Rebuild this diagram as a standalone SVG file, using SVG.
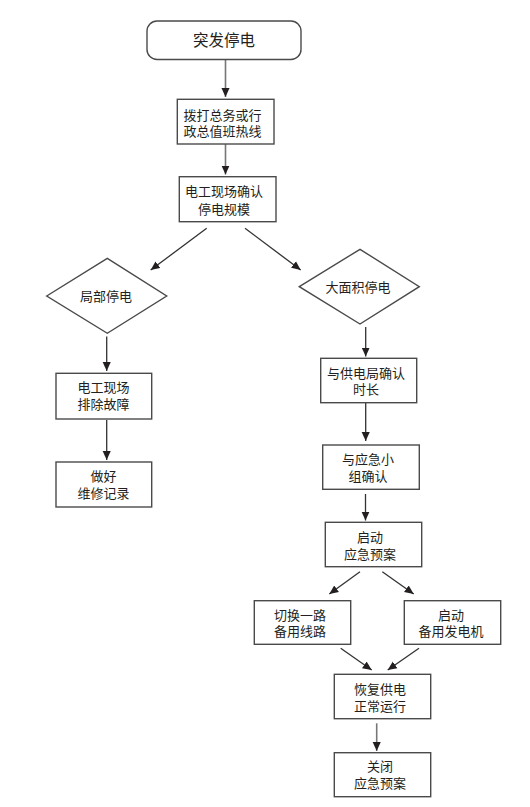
<svg xmlns="http://www.w3.org/2000/svg" width="530" height="807" viewBox="0 0 530 807">
<defs>
<marker id="ah" viewBox="0 0 10 10" refX="10" refY="5" markerWidth="9" markerHeight="9" markerUnits="userSpaceOnUse" orient="auto">
<path d="M0,0.5 L10,5 L0,9.5 z" fill="#231f20"/>
</marker>
</defs>
<style>
.box{fill:#fff;stroke:#4a4a4a;stroke-width:1.4}
.t{font-family:"Liberation Sans","Noto Sans CJK SC",sans-serif;font-size:13px;fill:#231f20;text-anchor:middle}
.t15{font-size:15.5px}
.c{stroke:#333;stroke-width:1.3;fill:none;marker-end:url(#ah)}
.g{stroke:#777;stroke-width:1.6}
</style>
<rect width="530" height="807" fill="#fff"/>
<g id="connectors">
<line class="c g" x1="225.5" y1="59" x2="225.5" y2="97"/>
<line class="c g" x1="225.5" y1="144" x2="225.5" y2="174.5"/>
<line class="c" x1="206.7" y1="228.3" x2="150.7" y2="270"/>
<line class="c" x1="245" y1="228.3" x2="300.7" y2="270"/>
<line class="c" x1="106.7" y1="336.5" x2="106.7" y2="371"/>
<line class="c" x1="106.7" y1="420" x2="106.7" y2="460"/>
<line class="c" x1="365.7" y1="327" x2="365.7" y2="356.5"/>
<line class="c" x1="365.7" y1="403" x2="365.7" y2="441"/>
<line class="c" x1="365.5" y1="494" x2="365.5" y2="520.5"/>
<line class="c" x1="360" y1="571.7" x2="329.3" y2="594"/>
<line class="c" x1="382.3" y1="571.7" x2="413.7" y2="594"/>
<line class="c" x1="340.7" y1="648.3" x2="371.7" y2="670"/>
<line class="c" x1="419" y1="648.3" x2="387.7" y2="670"/>
<line class="c g" x1="376.7" y1="723.3" x2="376.7" y2="751"/>
</g>
<g id="n1">
<rect class="box" x="147" y="21" width="154" height="38.5" rx="10"/>
<text class="t t15" x="224" y="46">突发停电</text>
</g>
<g id="n2">
<rect class="box" x="177.3" y="99.3" width="96.7" height="44.7"/>
<text class="t" x="222.5" y="119.5">拨打总务或行</text>
<text class="t" x="222.5" y="135.5">政总值班热线</text>
</g>
<g id="n3">
<rect class="box" x="179.3" y="176.7" width="96.7" height="45"/>
<text class="t" x="224" y="196">电工现场确认</text>
<text class="t" x="224" y="214">停电规模</text>
</g>
<g id="n4">
<polygon class="box" points="46.7,296 107.3,258.3 166.7,296 107.3,333.3"/>
<text class="t" x="106" y="300.5">局部停电</text>
</g>
<g id="n5">
<polygon class="box" points="299.3,286.7 360,249.3 419.3,286.7 360,324"/>
<text class="t" x="358" y="291.5">大面积停电</text>
</g>
<g id="n6">
<rect class="box" x="56" y="373.3" width="95.7" height="45.7"/>
<text class="t" x="103.5" y="392">电工现场</text>
<text class="t" x="103.5" y="409">排除故障</text>
</g>
<g id="n7">
<rect class="box" x="56" y="462" width="95.7" height="45"/>
<text class="t" x="103.5" y="481">做好</text>
<text class="t" x="103.5" y="498">维修记录</text>
</g>
<g id="n8">
<rect class="box" x="320.7" y="358.3" width="96" height="44.4"/>
<text class="t" x="366" y="378">与供电局确认</text>
<text class="t" x="366" y="394">时长</text>
</g>
<g id="n9">
<rect class="box" x="322.7" y="445" width="96.6" height="44.3"/>
<text class="t" x="368" y="464">与应急小</text>
<text class="t" x="368" y="480.5">组确认</text>
</g>
<g id="n10">
<rect class="box" x="325.3" y="522.3" width="96.4" height="44.4"/>
<text class="t" x="370" y="542">启动</text>
<text class="t" x="370" y="558.5">应急预案</text>
</g>
<g id="n11">
<rect class="box" x="254.3" y="600.7" width="96.4" height="43.6"/>
<text class="t" x="300" y="619.5">切换一路</text>
<text class="t" x="300" y="636">备用线路</text>
</g>
<g id="n12">
<rect class="box" x="404.3" y="600.7" width="96.4" height="43.6"/>
<text class="t" x="451" y="619.5">启动</text>
<text class="t" x="451" y="636">备用发电机</text>
</g>
<g id="n13">
<rect class="box" x="334.3" y="674.3" width="96.4" height="44.4"/>
<text class="t" x="380" y="693.5">恢复供电</text>
<text class="t" x="380" y="710.5">正常运行</text>
</g>
<g id="n14">
<rect class="box" x="334.3" y="752.7" width="96.4" height="44"/>
<text class="t" x="380" y="771">关闭</text>
<text class="t" x="380" y="788">应急预案</text>
</g>
</svg>
